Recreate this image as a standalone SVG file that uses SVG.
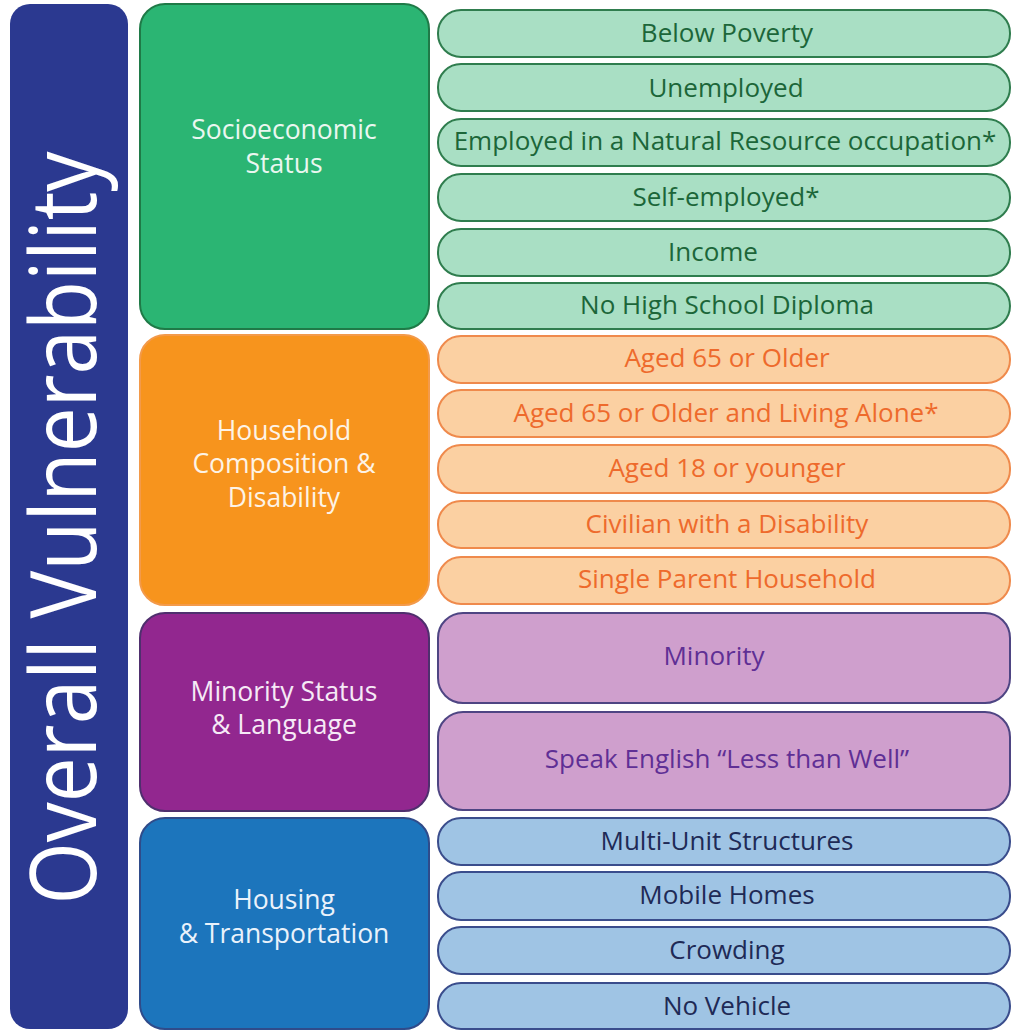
<svg xmlns="http://www.w3.org/2000/svg" width="1012" height="1031" viewBox="0 0 1012 1031">
<style>
text{font-family:"Open Sans","Noto Sans","Liberation Sans",sans-serif;text-anchor:middle}
.grp{stroke-width:2}
.lbl{font-size:26.5px}
.pt{font-size:26px}
.g .box{fill:#2bb573;stroke:#1f7a47}
.g .pill{fill:#a9dfc4;stroke:#2f7d4e;stroke-width:2}
.g .pt{fill:#1c6639}
.g .lbl{fill:#eaf7f0}
.o .box{fill:#f7941d;stroke:#f39a4a}
.o .pill{fill:#fbd0a2;stroke:#ef8a4c;stroke-width:2}
.o .pt{fill:#ee6a2c}
.o .lbl{fill:#fdf3e6}
.p .box{fill:#92278f;stroke:#4f2f6e}
.p .pill{fill:#cf9fcd;stroke:#4e4583;stroke-width:2}
.p .pt{fill:#5f2f95}
.p .lbl{fill:#f6eaf6}
.b .box{fill:#1c75bc;stroke:#2f4b8a}
.b .pill{fill:#9fc4e4;stroke:#3a4d8c;stroke-width:2}
.b .pt{fill:#1e2a56}
.b .lbl{fill:#eaf2fb}
</style>
<rect width="1012" height="1031" fill="#ffffff"/>
<g id="overall">
<rect x="10" y="4" width="118" height="1025" rx="20" fill="#2b3990"/>
<text transform="translate(96,528) rotate(-90)" font-size="92" fill="#ffffff" textLength="753" lengthAdjust="spacingAndGlyphs">Overall Vulnerability</text>
</g>
<g id="socioeconomic" class="g">
<rect class="box grp" x="140" y="4" width="289" height="325" rx="25"/>
<text class="lbl" x="284" y="139">Socioeconomic</text>
<text class="lbl" x="284" y="173">Status</text>
<g id="below-poverty"><rect class="pill" x="438" y="10" width="572" height="47" rx="23"/><text class="pt" x="727" y="42">Below Poverty</text></g>
<g id="unemployed"><rect class="pill" x="438" y="64" width="572" height="47" rx="23"/><text class="pt" x="726" y="97">Unemployed</text></g>
<g id="natural-resource"><rect class="pill" x="438" y="119" width="572" height="47" rx="23"/><text class="pt" x="725" y="150">Employed in a Natural Resource occupation*</text></g>
<g id="self-employed"><rect class="pill" x="438" y="174" width="572" height="47" rx="23"/><text class="pt" x="726" y="206">Self-employed*</text></g>
<g id="income"><rect class="pill" x="438" y="229" width="572" height="47" rx="23"/><text class="pt" x="713" y="261">Income</text></g>
<g id="no-diploma"><rect class="pill" x="438" y="283" width="572" height="46" rx="23"/><text class="pt" x="727" y="314">No High School Diploma</text></g>
</g>
<g id="household" class="o">
<rect class="box grp" x="140" y="335" width="289" height="270" rx="25"/>
<text class="lbl" x="284" y="440">Household</text>
<text class="lbl" x="284" y="473">Composition &amp;</text>
<text class="lbl" x="284" y="507">Disability</text>
<g id="aged65"><rect class="pill" x="438" y="336" width="572" height="47" rx="23"/><text class="pt" x="727" y="367">Aged 65 or Older</text></g>
<g id="aged65-alone"><rect class="pill" x="438" y="390" width="572" height="47" rx="23"/><text class="pt" x="726" y="422">Aged 65 or Older and Living Alone*</text></g>
<g id="aged18"><rect class="pill" x="438" y="445" width="572" height="48" rx="23"/><text class="pt" x="727" y="477">Aged 18 or younger</text></g>
<g id="disability"><rect class="pill" x="438" y="501" width="572" height="47" rx="23"/><text class="pt" x="727" y="533">Civilian with a Disability</text></g>
<g id="single-parent"><rect class="pill" x="438" y="557" width="572" height="47" rx="23"/><text class="pt" x="727" y="588">Single Parent Household</text></g>
</g>
<g id="minority" class="p">
<rect class="box grp" x="140" y="613" width="289" height="198" rx="25"/>
<text class="lbl" x="284" y="701">Minority Status</text>
<text class="lbl" x="284" y="734">&amp; Language</text>
<g id="minority-pill"><rect class="pill" x="438" y="613" width="572" height="90" rx="25"/><text class="pt" x="714" y="665">Minority</text></g>
<g id="english"><rect class="pill" x="438" y="712" width="572" height="98" rx="25"/><text class="pt" x="727" y="768">Speak English “Less than Well”</text></g>
</g>
<g id="housing" class="b">
<rect class="box grp" x="140" y="818" width="289" height="211" rx="25"/>
<text class="lbl" x="284" y="909">Housing</text>
<text class="lbl" x="284" y="943">&amp; Transportation</text>
<g id="multi-unit"><rect class="pill" x="438" y="818" width="572" height="47" rx="23"/><text class="pt" x="727" y="850">Multi-Unit Structures</text></g>
<g id="mobile"><rect class="pill" x="438" y="872" width="572" height="48" rx="23"/><text class="pt" x="727" y="904">Mobile Homes</text></g>
<g id="crowding"><rect class="pill" x="438" y="927" width="572" height="47" rx="23"/><text class="pt" x="727" y="959">Crowding</text></g>
<g id="no-vehicle"><rect class="pill" x="438" y="983" width="572" height="46" rx="23"/><text class="pt" x="727" y="1015">No Vehicle</text></g>
</g>
<g id="connectors"></g>
</svg>
